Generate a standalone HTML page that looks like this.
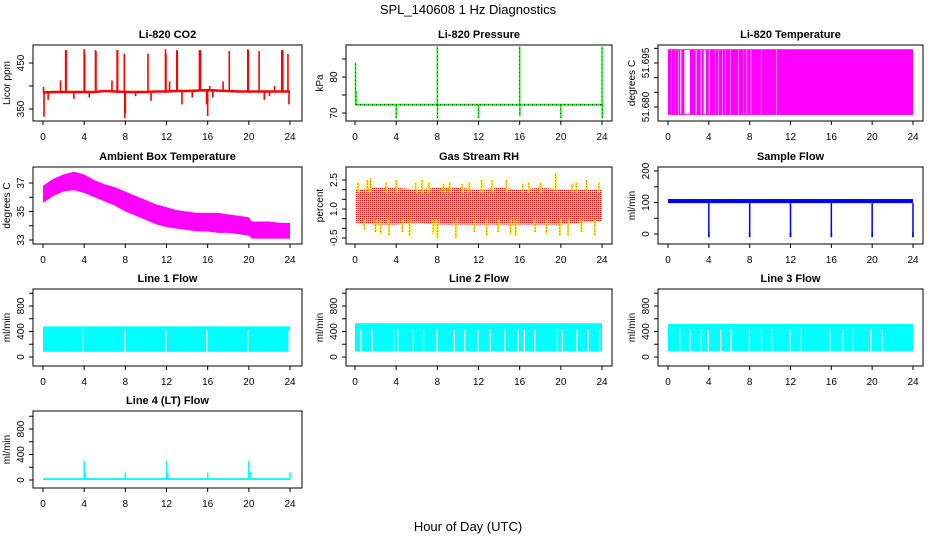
<!DOCTYPE html>
<html><head><meta charset="utf-8"><style>
html,body{margin:0;padding:0;background:#fff;}
svg{display:block;font-family:"Liberation Sans",sans-serif;}
</style></head><body>
<svg id="c" width="936" height="540" xmlns="http://www.w3.org/2000/svg">
<defs>
<pattern id="rhdots" width="2" height="2" patternUnits="userSpaceOnUse"><rect x="0" y="0" width="1" height="1" fill="#ff0000"/></pattern>
</defs>
<text x="468" y="14" text-anchor="middle" font-size="13">SPL_140608  1 Hz Diagnostics</text>
<text x="468" y="531" text-anchor="middle" font-size="13">Hour of Day (UTC)</text>
</svg>
<script>
// ---- data ----
const xTicks = [0,4,8,12,16,20,24];
const co2Hours = [0,1,2,3,4,5,6,7,8,9,10,11,12,13,14,15,16,17,18,19,20,21,22,23,24];
const co2Base = [386,387,387,387,387,387,389,388,387,387,387,388,388,389,389,390,391,390,389,388,388,388,388,388,388];
const co2SpikeHours = [0.05,0.1,0.5,1.7,2.2,2.25,3.0,4.0,4.05,4.5,5.1,5.15,6.7,7.2,7.25,7.9,7.95,8.0,9.0,10.2,10.5,11.9,11.95,12.3,13.0,13.05,13.5,14.5,15.2,15.3,15.9,16.0,16.2,16.5,17.5,18.1,19.9,19.95,21.0,21.5,22.0,22.5,23.2,23.3,23.8,23.9];
const co2SpikeVals = [398,333,370,412,478,478,372,480,470,375,478,475,412,478,478,470,330,340,378,470,368,480,470,410,478,476,360,375,478,478,360,335,400,375,410,476,480,478,476,370,378,400,478,478,470,360];
const presBaseHours = [0.1,24];
const presBaseVals = [72.3,72.3];
const presSpikeHours = [0.05,0.1,4,8,8.02,12,16,16.02,20,24,24.02];
const presSpikeVals = [84,76,68.5,88.5,68.5,68.5,88.5,69,68.5,88.5,68.5];
const tempHigh = 51.6997, tempLow = 51.6773;
const tempGapStart = [0.3,0.7,1.0,1.2,1.6,2.1,2.7,3.2,3.5,4.0,4.6,4.9,5.3,5.6,6.1,6.9,7.4,7.7,8.1,9.1,10.6];
const tempGapEnd   = [0.35,0.75,1.05,1.3,2.1,2.15,2.8,3.3,3.7,4.1,4.65,4.95,5.35,5.65,6.15,6.95,7.45,7.75,8.15,9.15,10.65];
const ambHours = [0,1,2,3,4,5,6,7,8,9,10,11,12,13,14,15,16,17,18,19,20,20.3,21,22,23,24];
const ambUpper = [36.8,37.3,37.6,37.8,37.6,37.2,36.9,36.7,36.4,36.1,35.8,35.5,35.3,35.1,35.0,34.9,34.9,34.9,34.8,34.7,34.6,34.3,34.3,34.3,34.2,34.2];
const ambLower = [35.6,36.1,36.4,36.5,36.3,36.0,35.7,35.4,35.0,34.7,34.4,34.1,33.9,33.8,33.7,33.6,33.6,33.5,33.5,33.4,33.3,33.1,33.1,33.1,33.1,33.1];
const rhHours = [0,2,4,6,8,10,12,14,16,18,20,22,24];
const rhUpper = [2.0,2.1,2.1,2.0,2.1,2.1,2.0,2.1,2.0,2.1,2.0,2.0,2.0];
const rhLower = [0.3,0.2,0.2,0.3,0.2,0.2,0.2,0.2,0.2,0.2,0.2,0.3,0.4];
const rhSpikeHours = [0.3,0.9,1.2,1.5,2.0,2.5,3.0,3.3,4.0,4.6,5.3,5.9,6.5,7.2,7.6,8.0,8.6,9.2,9.8,10.4,11.1,11.6,12.3,12.8,13.3,13.9,14.7,15.1,15.6,16.3,16.9,17.5,18.0,18.6,19.5,19.9,20.7,21.1,21.5,22.0,22.5,23.3,23.7];
const rhSpikeVals  = [2.4,-0.1,2.5,2.6,-0.2,-0.3,2.4,-0.4,2.5,-0.2,-0.4,2.4,2.5,2.4,-0.3,-0.5,2.3,2.4,-0.5,2.3,2.4,-0.2,2.5,-0.4,2.5,-0.2,2.5,-0.3,-0.4,2.3,2.4,-0.2,2.4,-0.3,2.85,-0.4,-0.4,2.3,2.4,-0.2,2.5,-0.4,2.4];
const sfBandUpper = 111, sfBandLower = 98;
const sfDropHours = [4,8,12,16,20,24];
const sfDropVals = [-10,-10,-10,-10,-10,-10];
const l1Upper = 480, l1Lower = 80, l1GapTop = 420;
const l1GapHours = [3.85,7.9,11.9,15.85,19.85,23.85];
const l2Upper = 530, l2Lower = 85, l2GapTop = 430;
const l2GapHours = [0.5,1.6,3.7,4.1,5.6,6.6,7.9,9.6,10.6,11.9,13.1,14.5,15.8,16.4,17.4,19.6,20.1,21.5,22.6,23.7];
const l3Upper = 520, l3Lower = 90, l3GapTop = 430;
const l3GapHours = [1.1,2.1,3.2,3.9,5.1,6.1,7.9,9.1,10.1,11.9,13.0,15.8,17.1,18.1,19.8,20.9];
const l4Base = 10;
const l4SpikeHours = [4,4.12,8,12,12.12,16,20,20.12,24];
const l4SpikeVals = [300,120,120,300,120,120,300,130,120];

// ---- layout ----
const NS = 'http://www.w3.org/2000/svg';
const svg = document.getElementById('c');
const cols = [{bx0:33,bx1:302,h0:43,h24:290},{bx0:346,bx1:612,h0:355,h24:602},{bx0:658,bx1:923,h0:668,h24:913}];
const rows = [{by0:45,by1:121},{by0:167,by1:244},{by0:289,by1:366},{by0:411,by1:488}];
function mk(tag, attrs, parent){const e=document.createElementNS(NS,tag);for(const k in attrs)e.setAttribute(k,attrs[k]);(parent||svg).appendChild(e);return e;}

function panel(name,c,r,title,ylab,v1,y1,v2,y2,yTicks,yLabels){
  const C=cols[c],R=rows[r];
  const g=mk('g',{});
  
  
  const sx=h=>C.h0+h*(C.h24-C.h0)/24;
  const sy=v=>y1+(v-v1)*(y2-y1)/(v2-v1);
  const clipId='clip-'+name;
  const cp=mk('clipPath',{id:clipId},g);
  mk('rect',{x:C.bx0,y:R.by0,width:C.bx1-C.bx0,height:R.by1-R.by0},cp);
  const plot=mk('g',{'clip-path':'url(#'+clipId+')'},g);
  
  
  const box=mk('rect',{x:C.bx0,y:R.by0,width:C.bx1-C.bx0,height:R.by1-R.by0,fill:'none',stroke:'#000','stroke-width':1},g);
  
  
  const t=mk('text',{x:(C.bx0+C.bx1)/2,y:R.by0-7,'text-anchor':'middle','font-size':11,'font-weight':'bold'},g);
  t.textContent=title;
  
  
  const xa=mk('g',{},g);
  
  
  mk('line',{x1:sx(xTicks[0]),x2:sx(xTicks[xTicks.length-1]),y1:R.by1,y2:R.by1,stroke:'#000'},xa);
  xTicks.forEach(h=>{
    mk('line',{x1:sx(h),x2:sx(h),y1:R.by1,y2:R.by1+4,stroke:'#000'},xa);
    const tl=mk('text',{x:sx(h),y:R.by1+19,'text-anchor':'middle','font-size':10},xa);
    tl.textContent=String(h);
  });
  const ya=mk('g',{},g);
  
  
  mk('line',{x1:C.bx0,x2:C.bx0,y1:sy(yTicks[0]),y2:sy(yTicks[yTicks.length-1]),stroke:'#000'},ya);
  yTicks.forEach((v,i)=>{
    const y=sy(v);
    mk('line',{x1:C.bx0-4,x2:C.bx0,y1:y,y2:y,stroke:'#000'},ya);
    if(yLabels[i]){
      const tl=mk('text',{x:C.bx0-9,y:y,'text-anchor':'middle','font-size':10,transform:'rotate(-90 '+(C.bx0-9)+' '+y+')'},ya);
      tl.textContent=yLabels[i];
    }
  });
  const yl=mk('text',{x:C.bx0-23,y:(R.by0+R.by1)/2,'text-anchor':'middle','font-size':10,transform:'rotate(-90 '+(C.bx0-23)+' '+((R.by0+R.by1)/2)+')'},g);
  yl.textContent=ylab;
  
  
  return {sx,sy,plot};
}
function vline(p,h,a,b,col,w){return mk('line',{x1:p.sx(h),x2:p.sx(h),y1:p.sy(a),y2:p.sy(b),stroke:col,'stroke-width':w},p.plot);}
function band(p,hs,up,lo,fill){
  let pts=hs.map((h,i)=>p.sx(h)+','+p.sy(up[i]));
  pts=pts.concat(hs.slice().reverse().map((h,i)=>p.sx(h)+','+p.sy(lo[hs.length-1-i])));
  return mk('polygon',{points:pts.join(' '),fill:fill},p.plot);
}
function rect(p,h0,h1,vTop,vBot,fill){return mk('rect',{x:p.sx(h0),y:p.sy(vTop),width:p.sx(h1)-p.sx(h0),height:p.sy(vBot)-p.sy(vTop),fill:fill},p.plot);}

// CO2
let p=panel('co2-panel',0,0,'Li-820 CO2','Licor ppm',350,109,450,63,[350,400,450],['350','','450']);
let e=mk('polyline',{points:co2Hours.map((h,i)=>p.sx(h)+','+p.sy(co2Base[i])).join(' '),fill:'none',stroke:'#ff0000','stroke-width':2.5},p.plot);


co2SpikeHours.forEach((h,i)=>{
  const b=co2Base[Math.min(24,Math.round(h))];
  const l=vline(p,h,b,co2SpikeVals[i],'#ff0000',1.6);
  
  
});

// Pressure
p=panel('pressure-panel',1,0,'Li-820 Pressure','kPa',70,113,80,77,[70,75,80,85],['70','','80','']);
e=mk('polyline',{points:presBaseHours.map((h,i)=>p.sx(h)+','+p.sy(presBaseVals[i])).join(' '),fill:'none',stroke:'#00ff00','stroke-width':2},p.plot);


mk('polyline',{points:presBaseHours.map((h,i)=>p.sx(h)+','+p.sy(presBaseVals[i])).join(' '),fill:'none',stroke:'#000','stroke-width':1,'stroke-dasharray':'1 3'},p.plot);
presSpikeHours.forEach((h,i)=>{
  const l=vline(p,h,presBaseVals[0],presSpikeVals[i],'#00ff00',1.5);
  
  
  mk('line',{x1:p.sx(h),x2:p.sx(h),y1:p.sy(presBaseVals[0]),y2:p.sy(presSpikeVals[i]),stroke:'#000','stroke-width':0.8,'stroke-dasharray':'1 3'},p.plot);
});

// Temperature
p=panel('licor-temp-panel',2,0,'Li-820 Temperature','degrees C',51.680,107,51.695,63,[51.680,51.685,51.690,51.695,51.700],['51.680','','','51.695','']);
e=rect(p,0,24,tempHigh,tempLow,'#ff00ff');


tempGapStart.forEach((h,i)=>{
  const r=rect(p,h,tempGapEnd[i],tempHigh-0.0003,tempLow+0.0003,'#ffffff');
  
  
});

// Ambient
p=panel('ambient-temp-panel',0,1,'Ambient Box Temperature','degrees C',33,240,37,183,[33,34,35,36,37],['33','','35','','37']);
e=band(p,ambHours,ambUpper,ambLower,'#ff00ff');



// RH
p=panel('rh-panel',1,1,'Gas Stream RH','percent',-0.5,238,2.5,180,[-0.5,0,0.5,1,1.5,2,2.5],['-0.5','','','1.0','','','2.5']);
e=band(p,rhHours,rhUpper,rhLower,'#ffff00');


band(p,rhHours,rhUpper,rhLower,'url(#rhdots)');
rhSpikeHours.forEach((h,i)=>{
  const from = rhSpikeVals[i]>1 ? 1.8 : 0.5;
  const l=vline(p,h,from,rhSpikeVals[i],'#ffff00',2);
  
  
  mk('line',{x1:p.sx(h),x2:p.sx(h),y1:p.sy(from),y2:p.sy(rhSpikeVals[i]),stroke:'#ff0000','stroke-width':1,'stroke-dasharray':'1 2'},p.plot);
});

// Sample flow
p=panel('sample-flow-panel',2,1,'Sample Flow','ml/min',0,234,200,171,[0,50,100,150,200],['0','','100','','200']);
e=rect(p,0,24,sfBandUpper,sfBandLower,'#0000ff');


sfDropHours.forEach((h,i)=>{
  const l=vline(p,h,sfBandLower,sfDropVals[i],'#0000ff',1.5);
  
  
  rect(p,h-0.08,h+0.08,5,sfDropVals[i],'#0000ff');
});

// Line flows
function linePanel(name,c,r,title,up,lo,gapTop,gaps){
  const q=panel(name,c,r,title,'ml/min',0,rows[r].by0+68,800,rows[r].by0+17,[0,200,400,600,800,1000],['0','','400','','800','']);
  const b=rect(q,0,24,up,lo,'#00ffff');
  
  
  gaps.forEach(h=>{
    const g=rect(q,h,h+0.12,gapTop,lo-5,'#ffffff');
    
    
  });
  return q;
}
linePanel('line1-flow-panel',0,2,'Line 1 Flow',l1Upper,l1Lower,l1GapTop,l1GapHours);
linePanel('line2-flow-panel',1,2,'Line 2 Flow',l2Upper,l2Lower,l2GapTop,l2GapHours);
linePanel('line3-flow-panel',2,2,'Line 3 Flow',l3Upper,l3Lower,l3GapTop,l3GapHours);

// Line 4
p=panel('line4-flow-panel',0,3,'Line 4 (LT) Flow','ml/min',0,480,800,429,[0,200,400,600,800,1000],['0','','400','','800','']);
e=rect(p,0,24,l4Base+20,l4Base-10,'#00ffff');


l4SpikeHours.forEach((h,i)=>{
  const l=vline(p,h,l4Base,l4SpikeVals[i],'#00ffff',1.5);
  
  
});
</script>
</body></html>
